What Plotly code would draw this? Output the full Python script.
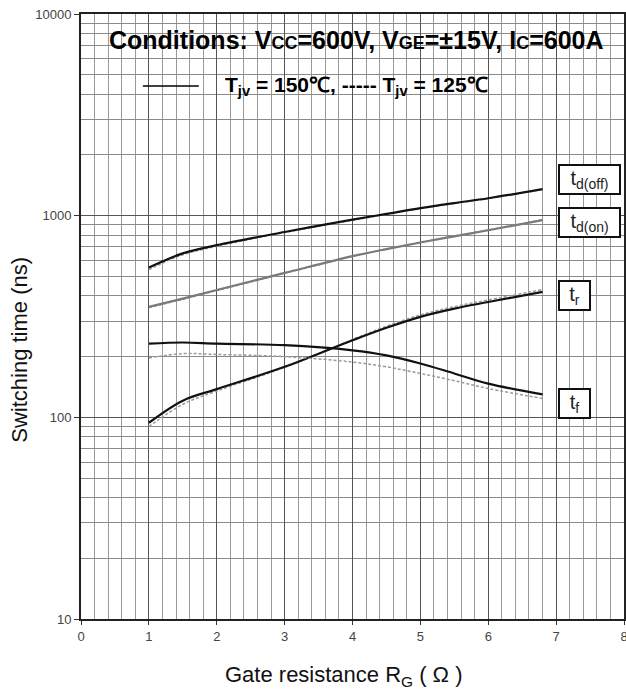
import plotly.graph_objects as go

# Gate resistance (ohm)
rg = [1, 1.5, 2, 3, 4, 4.5, 5, 5.5, 6, 6.8]

# Switching times (ns), Tjv = 150 C (solid) and 125 C (dashed)
td_off_150 = [553, 650, 714, 830, 955, 1020, 1090, 1155, 1220, 1354]
td_off_125 = [540, 640, 705, 825, 950, 1015, 1085, 1150, 1215, 1350]
td_on_150 = [353, 388, 428, 520, 630, 683, 736, 790, 847, 950]
td_on_125 = [350, 385, 425, 518, 628, 683, 738, 793, 850, 955]
tr_150 = [94, 121, 138, 178, 241, 278, 315, 346, 373, 419]
tr_125 = [90, 116, 135, 177, 243, 283, 322, 354, 382, 430]
tf_150 = [232, 235, 232, 228, 215, 203, 185, 165, 147, 130]
tf_125 = [197, 207, 205, 200, 188, 178, 165, 152, 139, 124]

x_ticks = [0, 1, 2, 3, 4, 5, 6, 7, 8]
y_ticks = [10, 100, 1000, 10000]
y_minor = [m * d for d in (10, 100, 1000) for m in range(2, 10)]
x_minor = [i / 5 for i in range(0, 41) if i % 5 != 0]

FONT = "Liberation Sans"

fig = go.Figure()

series = [
    (td_off_150, td_off_125, "#111111"),
    (td_on_150, td_on_125, "#7a7a7a"),
    (tr_150, tr_125, "#111111"),
    (tf_150, tf_125, "#111111"),
]
for s150, s125, col in series:
    fig.add_trace(go.Scatter(x=rg, y=s125, mode="lines",
                             line=dict(color="#9a9a9a", width=1.5, dash="3px,2px", shape="spline"),
                             showlegend=False, hoverinfo="skip"))
    fig.add_trace(go.Scatter(x=rg, y=s150, mode="lines",
                             line=dict(color=col, width=2.2, shape="spline"),
                             showlegend=False, hoverinfo="skip"))

fig.update_xaxes(range=[0, 8], tickvals=x_ticks, ticks="outside", ticklen=4,
                 tickcolor="#333", tickfont=dict(family=FONT, size=13, color="#444"),
                 ticklabeloverflow="allow",
                 showgrid=True, gridcolor="#555", gridwidth=1.4,
                 minor=dict(tickvals=x_minor, showgrid=True, gridcolor="#9a9a9a", gridwidth=1.2),
                 showline=True, linecolor="#222", linewidth=2, mirror=True, zeroline=False,
                 automargin=False)
fig.update_yaxes(type="log", range=[1, 4], tickvals=y_ticks, ticktext=[str(v) for v in y_ticks],
                 ticks="outside", ticklen=5, tickcolor="#333",
                 tickfont=dict(family=FONT, size=13, color="#444"),
                 showgrid=True, gridcolor="#555", gridwidth=1.4,
                 minor=dict(tickvals=y_minor, showgrid=True, gridcolor="#8a8a8a", gridwidth=1.2),
                 showline=True, linecolor="#222", linewidth=2, mirror=True, zeroline=False,
                 automargin=False)

# axis titles
fig.add_annotation(xref="paper", yref="paper", x=0.484, y=0, yshift=-57, xanchor="center",
                   yanchor="middle", showarrow=False,
                   text="Gate resistance R<sub>G</sub> ( \u03a9 )",
                   font=dict(family=FONT, size=22, color="#111"))
fig.add_annotation(xref="paper", yref="paper", x=0, xshift=-61, y=0.445, textangle=-90,
                   xanchor="center", yanchor="middle", showarrow=False, text="Switching time (ns)",
                   font=dict(family=FONT, size=22, color="#111"))

box = dict(xref="paper", yref="paper", xanchor="center", yanchor="middle", showarrow=False,
           bgcolor="white", bordercolor="#111", borderwidth=2, borderpad=0,
           font=dict(family=FONT, size=20, color="#222"))
fig.add_annotation(x=0.937, y=0.727, text="t<sub>d(off)</sub>", width=59, height=27, **box)
fig.add_annotation(x=0.937, y=0.655, text="t<sub>d(on)</sub>", width=59, height=27, **box)
fig.add_annotation(x=0.908, y=0.534, text="t<sub>r</sub>", width=29, height=27, **box)
fig.add_annotation(x=0.908, y=0.357, text="t<sub>f</sub>", width=29, height=27, **box)

sub = '<span style="font-size:18px">'
fig.add_annotation(xref="paper", yref="paper", x=0.508, y=0.957, xanchor="center", yanchor="middle",
                   showarrow=False,
                   text=f"<b>Conditions: V{sub}CC</span>=600V, V{sub}GE</span>=\u00b115V, I{sub}C</span>=600A</b>",
                   font=dict(family=FONT, size=25, color="black"))
fig.add_annotation(xref="paper", yref="paper", x=0.2615, y=0.881, xanchor="left", yanchor="middle",
                   showarrow=False,
                   text="<b>T<sub>jv</sub> = 150\u2103, ----- T<sub>jv</sub> = 125\u2103</b>",
                   font=dict(family=FONT, size=21, color="black"))
fig.add_shape(type="line", xref="paper", yref="paper", x0=0.114, x1=0.217, y0=0.881, y1=0.881,
              line=dict(color="black", width=1.5))

fig.update_layout(width=626, height=690, margin=dict(l=81, r=2, t=14, b=71),
                  paper_bgcolor="white", plot_bgcolor="white", showlegend=False)

fig.write_html("out.html", config={"displayModeBar": False},
               post_script="document.body.style.margin='0px';document.body.style.padding='0px';")
